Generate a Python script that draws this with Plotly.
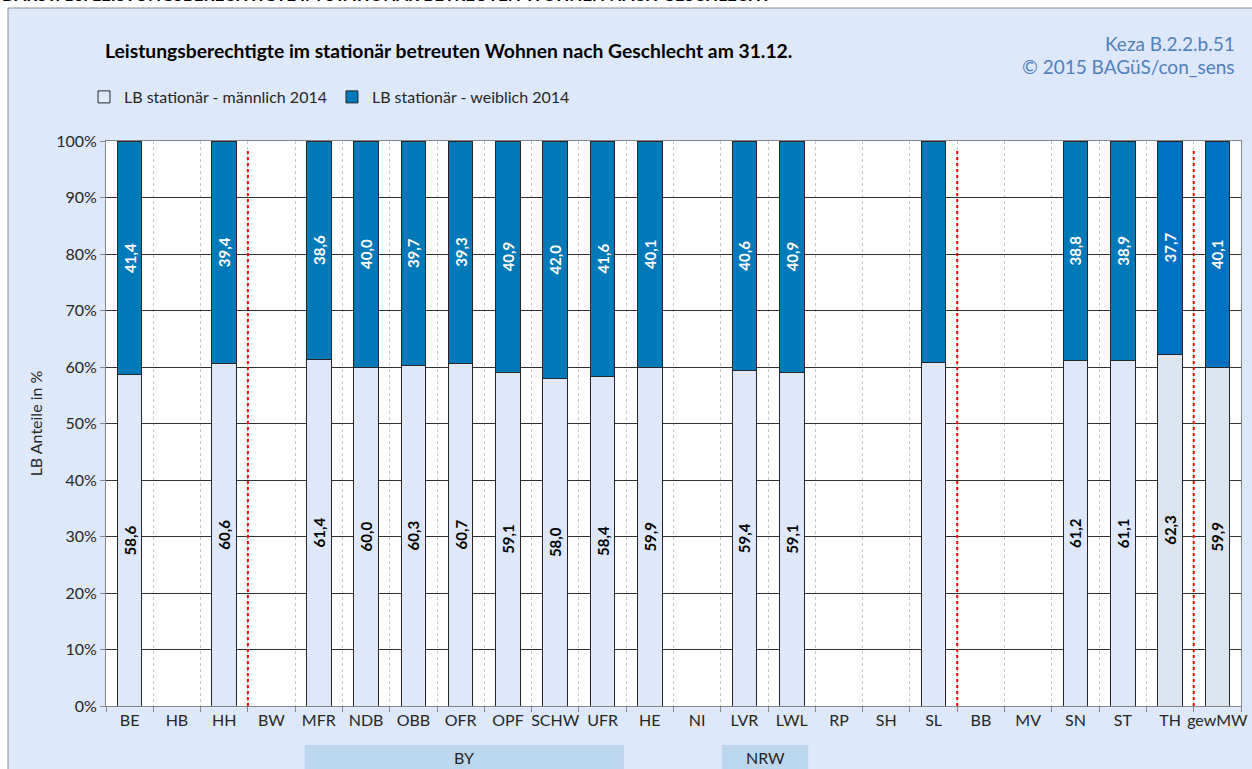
import plotly.graph_objects as go

categories = ["BE", "HB", "HH", "BW", "MFR", "NDB", "OBB", "OFR", "OPF", "SCHW", "UFR",
              "HE", "NI", "LVR", "LWL", "RP", "SH", "SL", "BB", "MV", "SN", "ST", "TH", "gewMW"]
male = [58.6, None, 60.6, None, 61.4, 60.0, 60.3, 60.7, 59.1, 58.0, 58.4,
        59.9, None, 59.4, 59.1, None, None, 60.8, None, None, 61.2, 61.1, 62.3, 59.9]
female = [41.4, None, 39.4, None, 38.6, 40.0, 39.7, 39.3, 40.9, 42.0, 41.6,
          40.1, None, 40.6, 40.9, None, None, 39.2, None, None, 38.8, 38.9, 37.7, 40.1]
show_label = [c != "SL" for c in categories]
highlight = ["TH", "gewMW"]
group_labels = ["BY", "NRW"]

FONT = "Lato"
W, H = 1252, 769
L, R, T, B = 106, 1241, 141, 706


def px_x(p):
    return (p - L) / (R - L)


def px_y(p):
    return (B - p) / (B - T)


def fmt(v, show):
    if v is None or not show:
        return ""
    return "<b>" + f"{v:.1f}".replace(".", ",") + "</b>"


male_colors = ["#dce4ef" if c in highlight else "#dee8fa" for c in categories]
female_colors = ["#0070c0" if c in highlight else "#0079b8" for c in categories]

fig = go.Figure()
fig.add_trace(go.Bar(
    x=categories, y=male, name="LB stationär - männlich 2014",
    marker=dict(color=male_colors, line=dict(color="#262626", width=1)),
    text=[fmt(v, s) for v, s in zip(male, show_label)],
    textposition="inside", insidetextanchor="middle", textangle=-90,
    textfont=dict(color="black", size=15, family=FONT),
))
fig.add_trace(go.Bar(
    x=categories, y=female, name="LB stationär - weiblich 2014",
    marker=dict(color=female_colors, line=dict(color="#262626", width=1)),
    text=[fmt(v, s) for v, s in zip(female, show_label)],
    textposition="inside", insidetextanchor="middle", textangle=-90,
    textfont=dict(color="white", size=15, family=FONT),
))

shapes = [
    # white margins around chart box
    dict(type="rect", xref="paper", yref="paper", x0=-0.3, x1=px_x(8), y0=-0.3, y1=1.4,
         fillcolor="white", line=dict(width=0), layer="below"),
    dict(type="rect", xref="paper", yref="paper", x0=-0.3, x1=1.2, y0=px_y(8), y1=1.4,
         fillcolor="white", line=dict(width=0), layer="below"),
    dict(type="line", xref="paper", yref="paper", x0=px_x(8), x1=px_x(8), y0=-0.3, y1=px_y(8),
         line=dict(color="#8c8c8c", width=1)),
    dict(type="line", xref="paper", yref="paper", x0=px_x(8), x1=1.2, y0=px_y(8), y1=px_y(8),
         line=dict(color="#8c8c8c", width=1)),
]
for xpos in [2.5, 17.5, 22.5]:
    shapes.append(dict(type="line", xref="x", yref="y", x0=xpos, x1=xpos, y0=0, y1=98.5,
                       line=dict(color="#ff0000", width=2, dash="dot")))
bands = [(3.7, 10.45), (12.52, 14.35)]
for (a, b) in bands:
    shapes.append(dict(type="rect", xref="x", yref="paper", x0=a, x1=b,
                       y0=px_y(775), y1=px_y(745), fillcolor="#bdd7ee", line=dict(width=0)))

annotations = [
    dict(text="DARST. 10: LEISTUNGSBERECHTIGTE IM STATIONÄR BETREUTEN WOHNEN NACH GESCHLECHT",
         xref="paper", yref="paper", x=px_x(0), y=px_y(7), xanchor="left", yanchor="bottom",
         showarrow=False, font=dict(family=FONT, size=17, color="black", weight="bold")),
    dict(text="<b>Leistungsberechtigte im stationär betreuten Wohnen nach Geschlecht am 31.12.</b>",
         xref="paper", yref="paper", x=px_x(103), y=px_y(50), xanchor="left", yanchor="middle",
         showarrow=False, font=dict(family=FONT, size=19.3, color="black")),
    dict(text="Keza B.2.2.b.51", xref="paper", yref="paper", x=px_x(1237), y=px_y(43),
         xanchor="right", yanchor="middle", showarrow=False,
         font=dict(family=FONT, size=19, color="#4f81bd")),
    dict(text="© 2015 BAGüS/con_sens", xref="paper", yref="paper", x=px_x(1237), y=px_y(67),
         xanchor="right", yanchor="middle", showarrow=False,
         font=dict(family=FONT, size=19, color="#4f81bd")),
]
for (a, b), lab in zip(bands, group_labels):
    annotations.append(dict(text=lab, xref="x", yref="paper", x=(a + b) / 2, y=px_y(757),
                            xanchor="center", yanchor="middle", showarrow=False,
                            font=dict(family=FONT, size=16, color="#262626")))

fig.update_layout(
    width=W, height=H, barmode="stack", bargap=0.48,
    margin=dict(l=L, r=W - R, t=T, b=H - B, pad=0, autoexpand=False),
    paper_bgcolor="#dee8fb", plot_bgcolor="white",
    font=dict(family=FONT, size=16, color="#262626"),
    showlegend=True,
    legend=dict(orientation="h", x=px_x(84), y=px_y(97), xanchor="left", yanchor="middle",
                bgcolor="rgba(0,0,0,0)", font=dict(family=FONT, size=16, color="#262626"),
                itemwidth=30, traceorder="normal"),
    shapes=shapes, annotations=annotations,
    xaxis=dict(type="category", categoryorder="array", categoryarray=categories,
               tickson="boundaries", ticks="outside", ticklen=5, tickcolor="#868686",
               showgrid=True, gridcolor="#c8c8c8", griddash="dot", gridwidth=1,
               showline=True, linecolor="#868686", mirror=True, tickangle=0, automargin=False,
               tickfont=dict(family=FONT, size=16, color="#262626"), range=[-0.5, 23.5]),
    yaxis=dict(range=[0, 100], dtick=10, ticksuffix="%", ticks="outside", ticklen=5,
               tickcolor="#868686", showgrid=True, gridcolor="#303030", gridwidth=1,
               showline=True, linecolor="#868686", mirror=True, zeroline=False, automargin=False,
               tickfont=dict(family=FONT, size=16, color="#262626"),
               title=dict(text="LB Anteile in %", standoff=9,
                          font=dict(family=FONT, size=16, color="#262626"))),
)

fig.write_html("out.html", config={"displayModeBar": False},
               post_script="document.body.style.margin='0';document.body.style.overflow='hidden';")
